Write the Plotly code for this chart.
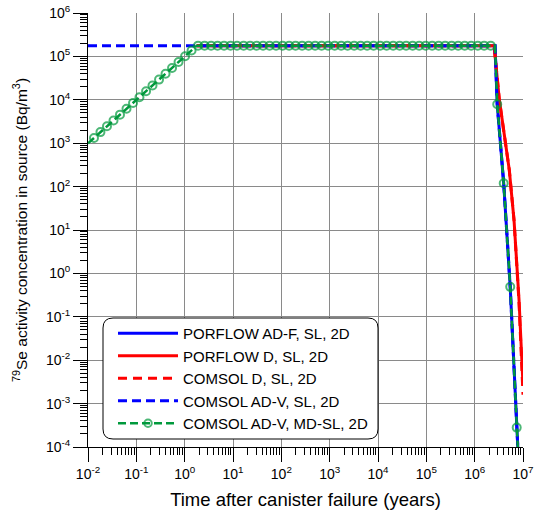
import plotly.graph_objects as go

# ---- data (time in years, concentration in Bq/m3) ----
porflow_adf_t = [1.78, 2.64e6, 2.925e6, 3.988e6, 5.436e6, 7.409e6, 8.04e6]
porflow_adf_c = [1.77e5, 1.77e5, 7.9e3, 1.19e2, 0.49, 2.8e-4, 5.0e-5]

porflow_d_t = [1.78, 2.52e6, 3.24e6, 4.68e6, 5.21e6, 6.52e6, 8.28e6, 1.0e7]
porflow_d_c = [1.77e5, 1.77e5, 1.0e4, 594, 240, 17, 0.244, 2.7e-3]

comsol_d_t = [1.78, 2.52e6, 3.24e6, 4.68e6, 5.21e6, 6.52e6, 8.28e6, 1.0e7]
comsol_d_c = [1.77e5, 1.77e5, 1.0e4, 594, 240, 17, 0.21, 1.6e-3]

comsol_adv_t = [0.01, 2.64e6, 2.925e6, 3.988e6, 5.436e6, 7.409e6, 8.04e6]
comsol_adv_c = [1.77e5, 1.77e5, 7.9e3, 1.19e2, 0.49, 2.8e-4, 5.0e-5]

# COMSOL AD-V, MD-SL: sampled (marked) points
mdsl_t = [0.0133, 0.0181, 0.0247, 0.0337, 0.0459, 0.0626, 0.0854, 0.116, 0.159, 0.216,
          0.295, 0.402, 0.548, 0.747, 1.02, 1.39, 1.89, 2.58, 3.52, 4.79,
          6.53, 8.90, 12.1, 16.6, 22.6, 30.8, 41.9, 57.1, 77.9, 106,
          145, 197, 269, 367, 500, 681, 929, 1.27e3, 1.73e3, 2.35e3,
          3.21e3, 4.37e3, 5.96e3, 8.12e3, 1.11e4, 1.51e4, 2.06e4, 2.81e4, 3.82e4, 5.21e4,
          7.11e4, 9.69e4, 1.32e5, 1.80e5, 2.45e5, 3.34e5, 4.56e5, 6.22e5, 8.47e5, 1.16e6,
          1.57e6, 2.15e6, 2.93e6, 3.99e6, 5.44e6, 7.41e6]
mdsl_c = [1.32e3, 1.80e3, 2.45e3, 3.34e3, 4.55e3, 6.20e3, 8.45e3, 1.15e4, 1.57e4, 2.14e4,
          2.92e4, 3.98e4, 5.42e4, 7.40e4, 1.01e5, 1.37e5,
          1.77e5, 1.77e5, 1.77e5, 1.77e5, 1.77e5, 1.77e5, 1.77e5, 1.77e5, 1.77e5, 1.77e5, 1.77e5, 1.77e5,
          1.77e5, 1.77e5, 1.77e5, 1.77e5, 1.77e5, 1.77e5, 1.77e5, 1.77e5, 1.77e5, 1.77e5, 1.77e5, 1.77e5,
          1.77e5, 1.77e5, 1.77e5, 1.77e5, 1.77e5, 1.77e5, 1.77e5, 1.77e5, 1.77e5, 1.77e5, 1.77e5, 1.77e5,
          1.77e5, 1.77e5, 1.77e5, 1.77e5, 1.77e5, 1.77e5, 1.77e5, 1.77e5, 1.77e5, 1.77e5,
          7.9e3, 1.19e2, 0.49, 2.8e-4]
# COMSOL AD-V, MD-SL: line vertices without a marker (start, knees, end)
mdsl_line_t = [0.01, 1.78, 2.64e6, 8.04e6]
mdsl_line_c = [9.9e2, 1.77e5, 1.77e5, 5.0e-5]

x_exponents = [-2, -1, 0, 1, 2, 3, 4, 5, 6, 7]
y_exponents = [-4, -3, -2, -1, 0, 1, 2, 3, 4, 5, 6]

# ---- styling ----
FONT = "Arial, Liberation Sans, sans-serif"
BLUE = "#0000ff"
RED = "#ff0000"
GREEN = "#00993c"
W, H = 534, 510
ML, MR, MT, MB = 88, 11, 13, 63

fig = go.Figure()
fig.add_trace(go.Scatter(x=porflow_adf_t, y=porflow_adf_c, mode="lines",
                         name="PORFLOW AD-F, SL, 2D", line=dict(color=BLUE, width=3)))
fig.add_trace(go.Scatter(x=porflow_d_t, y=porflow_d_c, mode="lines",
                         name="PORFLOW D, SL, 2D", line=dict(color=RED, width=3)))
fig.add_trace(go.Scatter(x=comsol_d_t, y=comsol_d_c, mode="lines",
                         name="COMSOL D, SL, 2D", line=dict(color=RED, width=3, dash="9px,6px")))
fig.add_trace(go.Scatter(x=comsol_adv_t, y=comsol_adv_c, mode="lines",
                         name="COMSOL AD-V, SL, 2D", line=dict(color=BLUE, width=3, dash="9px,5px")))

pts = sorted([(t, c, True) for t, c in zip(mdsl_t, mdsl_c)] +
             [(t, c, False) for t, c in zip(mdsl_line_t, mdsl_line_c)])
fig.add_trace(go.Scatter(x=[p[0] for p in pts], y=[p[1] for p in pts], mode="lines+markers",
                         name="COMSOL AD-V, MD-SL, 2D",
                         line=dict(color=GREEN, width=2.5, dash="8px,4px"),
                         marker=dict(symbol="circle-open", color=GREEN,
                                     size=[8 if p[2] else 0 for p in pts],
                                     line=dict(width=2, color=GREEN))))

def minor_vals(exps):
    return [k * 10.0 ** e for e in exps[:-1] for k in range(2, 10)]

axis_common = dict(type="log", showline=True, linecolor="black", linewidth=1,
                   ticks="outside", ticklen=14, tickcolor="black", tickwidth=1,
                   showgrid=True, gridcolor="#8a8a8a", gridwidth=1, zeroline=False,
                   tickfont=dict(family=FONT, size=14, color="black"),
                   tickmode="array", automargin=False, ticklabeloverflow="allow")

fig.update_xaxes(**axis_common, range=[-2, 7],
                 tickvals=[10.0 ** e for e in x_exponents],
                 ticktext=["10<sup>%d</sup>" % e for e in x_exponents],
                 minor=dict(tickmode="array", tickvals=minor_vals(x_exponents), ticks="outside",
                            ticklen=7, tickcolor="black", tickwidth=1, showgrid=False),
                 title=dict(text="Time after canister failure (years)",
                            font=dict(family=FONT, size=18.5, color="black"), standoff=12))
fig.update_yaxes(**axis_common, range=[-4, 6],
                 tickvals=[10.0 ** e for e in y_exponents],
                 ticktext=["10<sup>%d</sup>" % e for e in y_exponents],
                 minor=dict(tickmode="array", tickvals=minor_vals(y_exponents), ticks="outside",
                            ticklen=7, tickcolor="black", tickwidth=1, showgrid=False),
                 title=dict(text="<sup>79</sup>Se activity concentration in source (Bq/m<sup>3</sup>)",
                            font=dict(family=FONT, size=15.5, color="black"), standoff=14))

# rounded legend frame (pixel box converted to paper coordinates)
pw, ph = W - ML - MR, H - MT - MB
def px_x(x):
    return (x - ML) / pw
def px_y(y):
    return (H - MB - y) / ph
bx0, bx1, by0, by1, r = 103, 378, 318, 439, 10
x0, x1 = px_x(bx0), px_x(bx1)
yt, yb = px_y(by0), px_y(by1)
rx, ry = r / pw, r / ph
path = (f"M{x0+rx},{yt} L{x1-rx},{yt} Q{x1},{yt} {x1},{yt-ry} L{x1},{yb+ry} "
        f"Q{x1},{yb} {x1-rx},{yb} L{x0+rx},{yb} Q{x0},{yb} {x0},{yb+ry} "
        f"L{x0},{yt-ry} Q{x0},{yt} {x0+rx},{yt} Z")
fig.add_shape(type="path", path=path, xref="paper", yref="paper",
              line=dict(color="black", width=1), fillcolor="white", layer="above")

fig.update_layout(
    width=W, height=H,
    margin=dict(l=ML, r=MR, t=MT, b=MB),
    paper_bgcolor="white", plot_bgcolor="white",
    font=dict(family=FONT, color="black"),
    showlegend=True,
    legend=dict(x=px_x(113), y=px_y(317), xanchor="left", yanchor="top",
                bgcolor="rgba(0,0,0,0)", borderwidth=0, itemwidth=60,
                font=dict(family=FONT, size=15, color="black"),
                traceorder="normal"),
)

fig.write_html("out.html", config={"displayModeBar": False},
               post_script="document.body.style.margin='0px';document.body.style.overflow='hidden';")
